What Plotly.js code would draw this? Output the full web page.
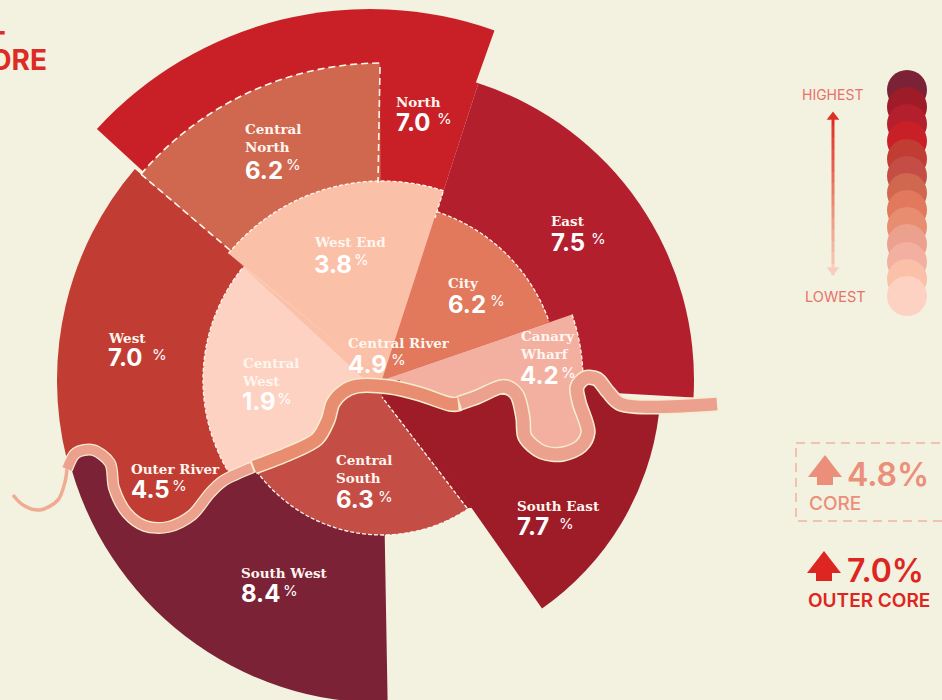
<!DOCTYPE html>
<html>
<head>
<meta charset="utf-8">
<script src="https://cdn.plot.ly/plotly-3.0.1.min.js"></script>
<style>
html,body{margin:0;padding:0;width:942px;height:700px;overflow:hidden;background:#F3F1E0}
#chart{position:absolute;left:-318px;top:-320px;width:1400px;height:1400px}
</style>
</head>
<body>
<div id="chart"></div>
<script>
// ---- Ring extents (radial unit = 1 px, degrees clockwise from north)
var outerRegions = ['North (inner part)','East','South East','South West','West','Central North'];
var outerReach   = [312,312,279,323,325,317];
var outerStart   = [-2,18,97,179,256,-49.5];
var outerSpan    = [20,75.2,48,77,54.5,49.1];
var outerColors  = ['#C92027','#B41F2E','#9E1B28','#7B2237','#C13D33','#D06850'];

var northReach = [371], northStart = [-47.4], northSpan = [67];

var coreRegions = ['Central South','Central West','City','West End','Canary Wharf'];
var coreReach   = [155,179,177,199,201];
var coreStart   = [146,237,18,-50.5,71];
var coreSpan    = [88,73,53,68.5,19];
var coreColors  = ['#C44E45','#FDD2C3','#E2785C','#FBC0A8','#F3AFA0'];

// ---- Labelled values
var labelNames  = ['North','Central<br>North','East','West','West End','City','Canary<br>Wharf','Central River','Central<br>West','Outer River','Central<br>South','South East','South West'];
var labelValues = ['7.0','6.2','7.5','7.0','3.8','6.2','4.2','4.9','1.9','4.5','6.3','7.7','8.4'];
var labelX      = [396,245,551,108,314,448,520,348,242,131,336,517,241];
var labelNameY  = [102,138,221,338,242,283,345,343,372,469,469,506,573];
var labelValueY = [122,170,242,357,264,304,375,364,401,489,499,526,593];
var labelPctX   = [436,285,590,151,353,489,560,390,276,171,377,558,282];
var labelPctY   = [118,164,238,354,259,300,372,359,398,485,496,523,590];

// ---- River centre line (page pixels)
var riverTailX = [67,65,58,40,23,13];
var riverTailY = [469,482,500,510,505,495];
var riverOuterWestX = [67,76,93,110,114,127,145,168,192,210,223,252];
var riverOuterWestY = [469,453,450,463,488,513,526,527,515,493,481,467.5];
var riverCentralX = [254,290,317,328,333,343,357,390,420,450,458];
var riverCentralY = [467,453,439,420,403,392,386,387,394,404,404];
var riverOuterEastX = [460,477,500,507,517,523,525,542,563,581,588,579,577,585,597,608,621,717];
var riverOuterEastY = [403,397,387,387,395,418,437,452,454,446,432,402,387,378,379,392,404,404];

// ---- Legend
var scaleColors = ['#7B2237','#9E1B28','#B41F2E','#C92027','#C13D33','#C44E45','#D06850','#E2785C','#E98D70','#EBA18E','#F3AFA0','#FBC0A8','#FDD2C3'];
var scaleY = [90,107,124,141,159,176,193,210,227,244,262,279,296];
var rampLevels = [[0],[1],[2],[3],[4],[5],[6],[7],[8],[9],[10],[11],[12],[13]];

// ---- Helpers: page pixels -> polar about the centre of the rings
var CX = 382, CY = 380;
function toPolar(xs, ys){
  var r = [], t = [];
  for (var i = 0; i < xs.length; i++){
    var dx = xs[i]-CX, dy = ys[i]-CY;
    r.push(Math.sqrt(dx*dx+dy*dy));
    t.push(Math.atan2(dx,-dy)*180/Math.PI);
  }
  return {r:r, theta:t};
}
function centres(start, span){ return start.map(function(s,i){ return s+span[i]/2; }); }
function bars(sub, reach, start, span, colors){
  return {type:'barpolar', subplot:sub, r:reach, theta:centres(start,span), width:span,
          marker:{color:colors, line:{width:0}}, hoverinfo:'skip'};
}
function patch(sub, xs, ys, color){
  var p = toPolar(xs,ys);
  return {type:'scatterpolar', subplot:sub, mode:'lines', r:p.r, theta:p.theta, fill:'toself',
          fillcolor:color, line:{width:0, color:color}, hoverinfo:'skip'};
}
function stroke(sub, xs, ys, color, width){
  var p = toPolar(xs,ys);
  return {type:'scatterpolar', subplot:sub, mode:'lines', r:p.r, theta:p.theta,
          line:{color:color, width:width, shape:'spline', smoothing:0.9}, hoverinfo:'skip'};
}
function dashedArc(reach, from, to, coarse){
  var r = [], t = [], n = Math.ceil(Math.abs(to-from)/2);
  for (var i = 0; i <= n; i++){ r.push(reach); t.push(from+(to-from)*i/n); }
  return dashed(r,t,coarse);
}
function dashed(r,t,coarse){
  return {type:'scatterpolar', subplot:'polar3', mode:'lines', r:r, theta:t,
          line:{color:'#FFF8EE', width:coarse?1.6:1.3, dash:coarse?'7px,4px':'4px,2px'}, hoverinfo:'skip'};
}
function dashedPx(xs,ys,coarse){ var p = toPolar(xs,ys); return dashed(p.r,p.theta,coarse); }

var data = [];
// page-pixel Cartesian layer: legend
data.push({type:'scatter', mode:'markers', x:scaleY.map(function(){return 907;}), y:scaleY,
  marker:{size:40, color:scaleColors, line:{width:0}}, hoverinfo:'skip'});
data.push({type:'heatmap', x0:833, dx:3, y0:120, dy:11.5, z:rampLevels, showscale:false, hoverinfo:'skip',
  colorscale:[[0,'#E02E26'],[0.5,'#EC8068'],[1,'#F8CDBB']]});
data.push({type:'scatter', mode:'markers', x:[833,833], y:[117,270],
  marker:{symbol:['triangle-up','triangle-down'], size:11, opacity:1, color:['#E02E26','#F8CDBB'], line:{width:0}}, hoverinfo:'skip'});
// arrows in the summary
data.push({type:'scatter', mode:'markers', x:[825,825], y:[477,469.7],
  marker:{symbol:['square','triangle-up'], size:[16,29.4], opacity:1, color:'#EC8F7A', line:{width:0}}, hoverinfo:'skip'});
data.push({type:'scatter', mode:'markers', x:[824,824], y:[573,565.7],
  marker:{symbol:['square','triangle-up'], size:[16,29.4], opacity:1, color:'#DD2622', line:{width:0}}, hoverinfo:'skip'});

// North sits on its own slightly shifted centre
data.push(bars('polar', northReach, northStart, northSpan, ['#C92027']));
// outer ring
data.push(bars('polar2', outerReach, outerStart, outerSpan, outerColors));
data.push(patch('polar2',[660,621,608,597,585,577,579,588,600],[413,404,392,379,378,387,402,432,450],'#9E1B28'));
data.push(patch('polar2',[67,76,93,110,114,127,145,168,192,210,223,253,253,72],[469,453,450,463,488,513,526,527,515,493,481,467,405,445],'#C13D33'));
// core ring
data.push(bars('polar3', coreReach, coreStart, coreSpan, coreColors));
data.push(patch('polar3',[253,290,317,328,333,343,357,382,340,250],[467,453,439,420,403,392,386,382,370,450],'#FDD2C3'));
data.push(patch('polar3',[385,357,343,333,328,317,290,370],[385,386,392,403,420,439,453,460],'#C44E45'));
data.push(patch('polar3',[240,364,382],[264,379,380],'#FBC0A8'));
data.push(patch('polar3',[384,382,467,472],[380,397,508,508],'#9E1B28'));
data.push(patch('polar3',[400,420,450,459,477,500,507,517,523,525,542,563,581,588,579,577,585,570,400],
                         [384,394,404,403,397,387,387,395,418,437,452,454,446,432,402,387,378,370,378],'#F3AFA0'));
// dashed seams
data.push(dashedArc(317,-49.5,-0.4,true));
data.push(dashedPx([380,378],[67,183],true));
data.push(dashed([200,320],[-49.5,-49.5],true));
data.push(dashedArc(199,-50.5,18));
data.push(dashedArc(177,18,70.5));
data.push(dashedArc(201,71,89));
data.push(dashedArc(179,240,309));
data.push(dashedArc(155,146,233));
data.push(dashedPx([467,382],[508,397]));
data.push(dashedPx([443,435],[192,218]));
// river
data.push(stroke('polar3', riverTailX, riverTailY, '#EFAB93', 3.5));
var casing = '#F6EDCF';
data.push(stroke('polar3', riverOuterWestX.concat(riverCentralX[0]+4), riverOuterWestY.concat(riverCentralY[0]-2), casing, 12));
data.push(stroke('polar3', riverCentralX.concat(riverOuterEastX), riverCentralY.concat(riverOuterEastY), casing, 15.5));
data.push(stroke('polar3', riverOuterWestX, riverOuterWestY, '#EBA18E', 9.5));
data.push(stroke('polar3', riverCentralX, riverCentralY, '#E98D70', 12.5));
data.push(stroke('polar3', riverOuterEastX, riverOuterEastY, '#EBA18E', 12.5));

// ---- text
var ann = [];
function put(text,x,y,size,color,family,anchor,weight){
  ann.push({text:text, x:x, y:y, xref:'x', yref:'y', showarrow:false, xanchor:anchor||'left', yanchor:'middle',
            align:'left', borderpad:0, xshift:0, font:{size:size, color:color, family:family, weight:weight||400}});
}
var SERIF = '"DejaVu Serif", serif', SANS = 'Inter, "Open Sans", sans-serif';
labelNames.forEach(function(n,i){
  put('<b>'+n+'</b>', labelX[i]-1.5, labelNameY[i], 13.5, '#FFF6EE', SERIF);
  put('<b>'+labelValues[i]+'</b>', labelX[i]-1.5, labelValueY[i], 24, '#FFFFFF', SANS);
  put('%', labelPctX[i], labelPctY[i], 15, '#FFFFFF', SANS);
});
put('HIGHEST',832,94,14,'#E8716A',SANS,'center');
put('LOWEST',835,296,14.5,'#E8716A',SANS,'center');
put('4.8%',846,474,32,'#EC8F7A',SANS,'left',600);
put('CORE',808,503,19,'#EC8F7A',SANS,'left',500);
put('7.0%',846,570,32,'#DD2622',SANS,'left',600);
put('OUTER CORE',807,600,19,'#DD2622',SANS,'left',600);
put('<b>T</b>',7,42,28,'#DD2C26',SANS,'right');
put('<b>ORE</b>',48,60,28,'#DD2C26',SANS,'right');

var hiddenPolar = function(domainX, outer){
  return {domain:{x:domainX, y:[0,1]}, bgcolor:'rgba(0,0,0,0)', barmode:'overlay',
    radialaxis:{visible:false, range:[0,outer]},
    angularaxis:{visible:false, rotation:90, direction:'clockwise'}};
};
var layout = {
  width:1400, height:1400, margin:{l:0,r:0,t:0,b:0,pad:0}, showlegend:false,
  paper_bgcolor:'#F3F1E0', plot_bgcolor:'rgba(0,0,0,0)',
  xaxis:{visible:false, range:[-318,1082], fixedrange:true, domain:[0,1]},
  yaxis:{visible:false, range:[1080,-320], fixedrange:true, domain:[0,1]},
  polar:hiddenPolar([0,1376/1400],688),
  polar2:hiddenPolar([0,1],700),
  polar3:hiddenPolar([0,1],700),
  annotations:ann,
  shapes:[{type:'rect', xref:'x', yref:'y', x0:796, x1:980, y0:443, y1:521, layer:'below',
           line:{color:'#EFB2A0', width:1.5, dash:'9px,6px'}, fillcolor:'rgba(0,0,0,0)'}]
};
Plotly.newPlot('chart', data, layout, {staticPlot:true, displayModeBar:false, responsive:false});
</script>
</body>
</html>
